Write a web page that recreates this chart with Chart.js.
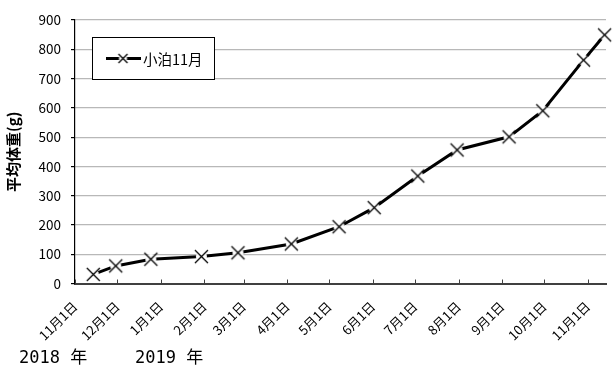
<!DOCTYPE html>
<html>
<head>
<meta charset="utf-8">
<style>
  html, body { margin: 0; padding: 0; background: #fff; }
  #wrap { width: 616px; height: 365px; position: relative; }
</style>
<script src="https://cdn.jsdelivr.net/npm/chart.js@4.4.1/dist/chart.umd.min.js"></script>
</head>
<body>
<div id="wrap"><canvas id="c" width="616" height="365"></canvas></div>
<script>
// Sampling dates and mean body weight (g)
const sampleDates = ['2018-11-14', '2018-11-30', '2018-12-25', '2019-01-30', '2019-02-25',
  '2019-04-04', '2019-05-08', '2019-06-02', '2019-07-03', '2019-07-31', '2019-09-06',
  '2019-09-30', '2019-10-29', '2019-11-13'];
const meanWeights = [31, 60, 83, 92, 105, 135, 194, 259, 367, 456, 501, 590, 763, 849];
const seriesName = '小泊11月';

// Month-start ticks on the date axis
const tickDates = ['2018-11-01', '2018-12-01', '2019-01-01', '2019-02-01', '2019-03-01',
  '2019-04-01', '2019-05-01', '2019-06-01', '2019-07-01', '2019-08-01', '2019-09-01',
  '2019-10-01', '2019-11-01'];
const tickLabels = ['11月1日', '12月1日', '1月1日', '2月1日', '3月1日', '4月1日', '5月1日',
  '6月1日', '7月1日', '8月1日', '9月1日', '10月1日', '11月1日'];
const yearLabels = ['2018 年', '2019 年'];
const axisStart = '2018-11-01';
const axisEnd = '2019-11-14';
const yTitle = '平均体重(g)';

// Days elapsed since the axis start
function dayNum(s) {
  const [y, m, d] = s.split('-').map(Number);
  const [y0, m0, d0] = axisStart.split('-').map(Number);
  return (Date.UTC(y, m - 1, d) - Date.UTC(y0, m0 - 1, d0)) / 86400000;
}

const points = sampleDates.map((s, i) => ({ x: dayNum(s), y: meanWeights[i] }));
const tickDays = tickDates.map(dayNum);

// Cross marker with a white halo so the thick line breaks around it
function makeMarker(arm, halo) {
  const size = Math.ceil(arm * 2 + 4);
  const cv = document.createElement('canvas');
  cv.width = size; cv.height = size;
  const g = cv.getContext('2d');
  const c = size / 2;
  g.fillStyle = '#fff';
  g.beginPath(); g.arc(c, c, halo, 0, Math.PI * 2); g.fill();
  g.strokeStyle = '#000';
  g.lineWidth = 1.3;
  g.beginPath();
  g.moveTo(c - arm, c - arm); g.lineTo(c + arm, c + arm);
  g.moveTo(c + arm, c - arm); g.lineTo(c - arm, c + arm);
  g.stroke();
  return cv;
}
const marker = makeMarker(6.5, 5.5);
const legendMarker = makeMarker(4.5, 4);

Chart.defaults.font.family = "'Noto Sans CJK JP', 'Noto Sans', sans-serif";
Chart.defaults.color = '#000';

// Inward tick marks on the date axis
const innerTicks = {
  id: 'innerTicks',
  afterDatasetsDraw(chart) {
    const x = chart.scales.x;
    const ctx = chart.ctx;
    ctx.save();
    ctx.strokeStyle = '#404040';
    ctx.lineWidth = 1;
    x.ticks.forEach(t => {
      const px = Math.round(x.getPixelForValue(t.value)) + 0.5;
      ctx.beginPath();
      ctx.moveTo(px, x.top);
      ctx.lineTo(px, x.top - 4);
      ctx.stroke();
    });
    ctx.restore();
  }
};

// Boxed legend inside the plot area
const boxLegend = {
  id: 'boxLegend',
  afterDraw(chart) {
    const ctx = chart.ctx;
    const a = chart.chartArea;
    const ds = chart.data.datasets[0];
    const bx = Math.round(a.left) + 17.5, by = Math.round(a.top) + 17.5;
    const bw = 122, bh = 42;
    ctx.save();
    ctx.fillStyle = '#fff';
    ctx.fillRect(bx, by, bw, bh);
    ctx.strokeStyle = '#000';
    ctx.lineWidth = 1;
    ctx.strokeRect(bx, by, bw, bh);
    const cy = by + bh / 2;
    ctx.strokeStyle = ds.borderColor;
    ctx.lineWidth = ds.borderWidth;
    ctx.beginPath();
    ctx.moveTo(bx + 13.5, cy);
    ctx.lineTo(bx + 48.5, cy);
    ctx.stroke();
    ctx.drawImage(legendMarker, bx + 30.5 - legendMarker.width / 2, cy - legendMarker.height / 2);
    ctx.fillStyle = '#000';
    ctx.font = "14.5px 'Noto Sans CJK JP', sans-serif";
    ctx.textBaseline = 'middle';
    ctx.textAlign = 'left';
    ctx.fillText(ds.label, bx + 50.5, cy + 0.5);
    ctx.restore();
  }
};

// Year captions under the date axis
const yearCaptions = {
  id: 'yearCaptions',
  afterDraw(chart) {
    const ctx = chart.ctx;
    ctx.save();
    ctx.fillStyle = '#000';
    ctx.font = "17px 'DejaVu Sans Mono', 'Noto Sans CJK JP', monospace";
    ctx.textBaseline = 'alphabetic';
    ctx.textAlign = 'left';
    ctx.fillText(yearLabels[0], 19, chart.height - 2);
    ctx.fillText(yearLabels[1], 135, chart.height - 2);
    ctx.restore();
  }
};

new Chart(document.getElementById('c'), {
  type: 'line',
  data: {
    datasets: [{
      label: seriesName,
      data: points,
      borderColor: '#000',
      borderWidth: 3,
      tension: 0,
      pointStyle: marker,
      pointRadius: 7,
      pointHoverRadius: 7,
      clip: false
    }]
  },
  options: {
    responsive: false,
    animation: false,
    events: [],
    layout: { padding: { top: 20, right: 7, bottom: 0, left: 0 } },
    plugins: {
      legend: { display: false },
      tooltip: { enabled: false }
    },
    scales: {
      x: {
        type: 'linear',
        min: dayNum(axisStart),
        max: dayNum(axisEnd),
        afterBuildTicks: s => { s.ticks = tickDays.map(v => ({ value: v })); },
        afterFit: s => { s.height = 81.5; s.paddingLeft = 0; s.paddingRight = 0; },
        grid: { display: true, drawOnChartArea: false, drawTicks: false },
        border: { display: true, color: '#404040', width: 2 },
        ticks: {
          autoSkip: false,
          maxRotation: 45,
          minRotation: 45,
          padding: 15,
          font: { size: 13 },
          color: '#000',
          callback: (v, i) => tickLabels[i]
        }
      },
      y: {
        min: 0,
        max: 900,
        afterFit: s => { s.width = 75; s.paddingTop = 0; s.paddingBottom = 0; },
        grid: { color: '#b8b8b8', lineWidth: 1.2, tickLength: 4, tickColor: '#000' },
        border: { display: true, color: '#000', width: 1.2 },
        ticks: { stepSize: 100, padding: 10, font: { size: 13.5 }, color: '#000' },
        title: {
          display: true,
          text: yTitle,
          font: { size: 15, weight: 'bold' },
          color: '#000',
          padding: { top: 4, bottom: 0 }
        }
      }
    }
  },
  plugins: [innerTicks, boxLegend, yearCaptions]
});
</script>
</body>
</html>
